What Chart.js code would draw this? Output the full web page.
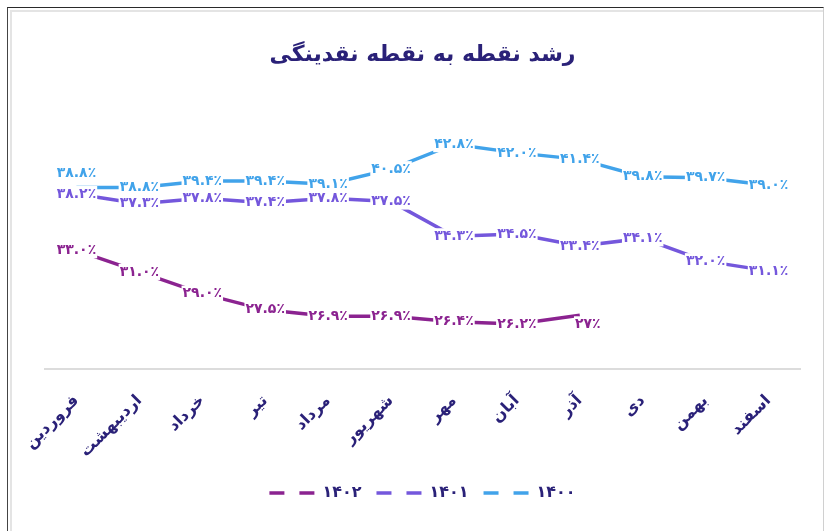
<!DOCTYPE html>
<html>
<head>
<meta charset="utf-8">
<script src="https://cdn.jsdelivr.net/npm/chart.js@4.4.0/dist/chart.umd.min.js"></script>
<style>
  html, body { margin: 0; padding: 0; background: #fff; }
  #wrap { position: relative; width: 824px; height: 531px; }
  #frame { position: absolute; left: 7px; top: 7px; width: 815px; height: 530px;
           border-top: 1px solid #2a2a2a; border-left: 1px solid #444; border-right: 1px solid #d0d0d0; }
  #inner { position: absolute; left: 2px; top: 2px; right: 0; bottom: 0;
           border-top: 2px solid #e4e4e4; border-left: 2px solid #e4e4e4; }
  canvas { position: absolute; left: 0; top: 0; }
</style>
</head>
<body>
<div id="wrap">
  <div id="frame"><div id="inner"></div></div>
  <canvas id="liqChart" width="824" height="531"></canvas>
</div>
<script>
// months (x axis)
const months = ["فروردین", "اردیبهشت", "خرداد", "تیر", "مرداد", "شهریور", "مهر", "آبان", "آذر", "دی", "بهمن", "اسفند"];
// point to point growth, percent
const values1400 = [38.8, 38.8, 39.4, 39.4, 39.1, 40.5, 42.8, 42.0, 41.4, 39.8, 39.7, 39.0];
const values1401 = [38.2, 37.3, 37.8, 37.4, 37.8, 37.5, 34.3, 34.5, 33.4, 34.1, 32.0, 31.1];
const values1402 = [33.0, 31.0, 29.0, 27.5, 26.9, 26.9, 26.4, 26.2, 27];
// digits shown after the point for each 1402 label (last one is shown as a whole number)
const decimals1402 = [1, 1, 1, 1, 1, 1, 1, 1, 0];

const FONT = "'DejaVu Sans', sans-serif";
const NAVY = "#2a2178";

function toFa(str) {
    return String(str).replace(/[0-9]/g, d => "۰۱۲۳۴۵۶۷۸۹"[d]);
}

// small offsets for labels that were moved by hand in the original
const labelShift = { "0-0": [0, -14], "2-8": [8, 9] };

const pointLabels = {
    id: "pointLabels",
    afterDatasetsDraw(chart) {
        const ctx = chart.ctx;
        ctx.save();
        ctx.font = "bold 14px " + FONT;
        ctx.textAlign = "center";
        ctx.textBaseline = "middle";
        chart.data.datasets.forEach((ds, di) => {
            const meta = chart.getDatasetMeta(di);
            meta.data.forEach((pt, i) => {
                const v = ds.data[i];
                if (v == null) return;
                const dec = ds.decimals ? ds.decimals[i] : 1;
                const txt = toFa(v.toFixed(dec)) + "٪";
                const sh = labelShift[di + "-" + i] || [0, 0];
                const x = pt.x + sh[0], y = pt.y + sh[1];
                const w = ctx.measureText(txt).width;
                ctx.fillStyle = "#fff";
                ctx.fillRect(x - w / 2 - 1, y - 8, w + 2, 16);
                ctx.fillStyle = ds.borderColor;
                ctx.fillText(txt, x, y);
            });
        });
        ctx.restore();
    }
};

const ctx = document.getElementById("liqChart").getContext("2d");
const liqChart = new Chart(ctx, {
    type: "line",
    data: {
        labels: months,
        datasets: [
            { label: toFa("1400"), data: values1400, borderColor: "#41a3ea", backgroundColor: "#41a3ea" },
            { label: toFa("1401"), data: values1401, borderColor: "#7457dc", backgroundColor: "#7457dc" },
            { label: toFa("1402"), data: values1402, decimals: decimals1402, borderColor: "#8b2390", backgroundColor: "#8b2390" },
        ],
    },
    options: {
        responsive: false,
        animation: false,
        datasets: { line: { borderWidth: 3.5, pointRadius: 0, tension: 0, clip: false } },
        layout: { padding: { left: 45, right: 24, top: 0, bottom: 20 } },
        scales: {
            x: {
                offset: true,
                grid: { display: false },
                border: { display: true, color: "#dcdcdc", width: 2 },
                ticks: {
                    color: NAVY,
                    font: { family: FONT, size: 16, weight: "bold" },
                    minRotation: 45,
                    maxRotation: 45,
                    padding: 14,
                },
                afterFit(scale) { scale.height -= 5; },
            },
            y: { display: false, min: 22, max: 45 },
        },
        plugins: {
            title: {
                display: true,
                text: "رشد نقطه به نقطه نقدینگی",
                color: NAVY,
                font: { family: FONT, size: 22, weight: "bold" },
                padding: { top: 42, bottom: 52 },
            },
            legend: {
                position: "bottom",
                reverse: true,
                labels: {
                    color: NAVY,
                    font: { family: FONT, size: 16, weight: "bold" },
                    usePointStyle: true,
                    pointStyle: "line",
                    pointStyleWidth: 45,
                    padding: 15,
                    generateLabels(chart) {
                        const items = Chart.defaults.plugins.legend.labels.generateLabels(chart);
                        return items.map(it => Object.assign(it, { lineDash: [15, 15], lineWidth: 3.5 }));
                    },
                },
            },
            tooltip: { enabled: false },
        },
    },
    plugins: [pointLabels],
});
</script>
</body>
</html>
